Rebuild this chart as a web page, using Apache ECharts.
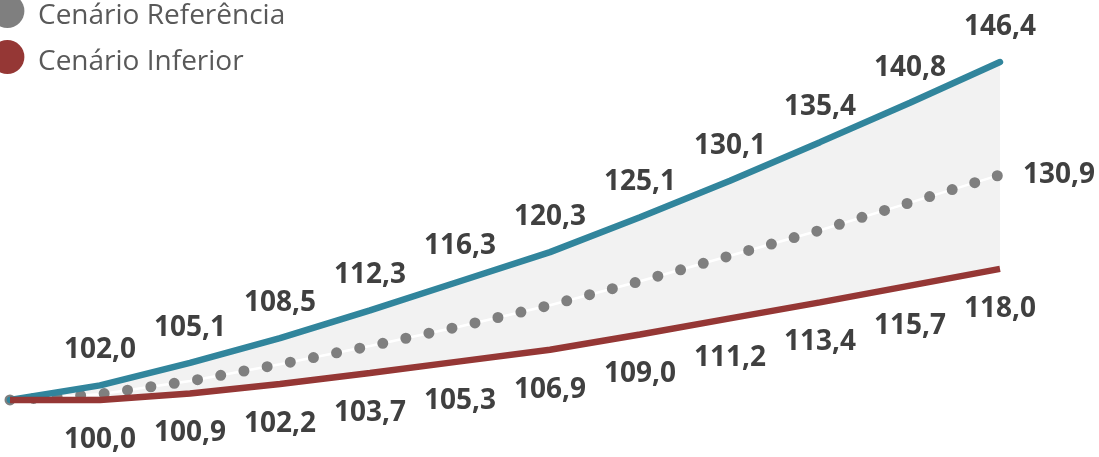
<!DOCTYPE html>
<html style="height: 100%">
    <head>
        <title>Cenários</title>
        <script type="text/javascript" src="https://cdn.jsdelivr.net/npm/echarts@6/dist/echarts.min.js"></script>
    </head>
    <body style="height: 100%; margin: 0; background: #fff">
        <div id="target" style="width: 1099px; height: 457px"></div>
<script>

// one category per period, first one is the common base 100
const periods = ["0", "1", "2", "3", "4", "5", "6", "7", "8", "9", "10", "11"];
const superior = [100.0, 102.0, 105.1, 108.5, 112.3, 116.3, 120.3, 125.1, 130.1, 135.4, 140.8, 146.4];
const referencia = [100.0, 100.8, 102.6, 104.9, 107.4, 110.1, 113.0, 116.3, 119.8, 123.3, 127.1, 130.9];
const inferior = [100.0, 100.0, 100.9, 102.2, 103.7, 105.3, 106.9, 109.0, 111.2, 113.4, 115.7, 118.0];

const labelFont = "Open Sans";
const fmt = v => v.toFixed(1).replace(".", ",");

let chart = echarts.init(document.getElementById('target'));

// band between upper and lower scenario
let bandHeight = superior.map((v, i) => +(v - inferior[i]).toFixed(2));

function valueLabel(position, distance, test)
{
    return {
        show: true,
        position: position,
        distance: distance,
        fontFamily: labelFont,
        fontWeight: "bold",
        fontSize: 28,
        lineHeight: 28,
        color: "#404040",
        formatter: p => test(p.dataIndex) ? fmt(p.value) : "",
    };
}

let option = {
    animation: false,
    grid: {
        left: 10,
        right: 99,
        top: 35.8,
        bottom: 20.6,
    },
    legend: {
        data: ["Cenário Referência", "Cenário Inferior"],
        orient: "vertical",
        left: -9.6,
        top: -8,
        padding: 0,
        icon: "circle",
        // line series draw the legend circle at 0.8 of itemHeight
        itemWidth: 34,
        itemHeight: 34,
        itemGap: 8,
        formatter: name => "{t|" + name + "}",
        textStyle: {
            rich: {
                // top padding drops the text a few px below the circle centre
                t: {
                    fontFamily: labelFont,
                    fontSize: 28,
                    color: "#595959",
                    lineHeight: 24,
                    padding: [10, 0, 0, 8.6],
                },
            },
        },
    },
    xAxis: {
        type: "category",
        data: periods,
        boundaryGap: false,
        show: false,
    },
    yAxis: {
        type: "value",
        min: 95,
        max: 150,
        show: false,
    },
    series: [
        {
            name: "bandBase",
            type: "line",
            stack: "band",
            data: inferior,
            symbol: "none",
            lineStyle: { opacity: 0 },
            silent: true,
        },
        {
            name: "band",
            type: "line",
            stack: "band",
            data: bandHeight,
            symbol: "none",
            lineStyle: { opacity: 0 },
            areaStyle: { color: "#f2f2f2", opacity: 1 },
            silent: true,
        },
        {
            name: "refWhite",
            type: "line",
            data: referencia,
            symbol: "none",
            lineStyle: { color: "#ffffff", width: 2.5 },
        },
        {
            name: "Cenário Referência",
            type: "line",
            data: referencia,
            symbol: "circle",
            symbolSize: 0.01,
            itemStyle: { color: "#7f7f7f" },
            lineStyle: {
                color: "#7f7f7f",
                width: 11,
                type: [0, 23.6],
                cap: "round",
            },
            label: valueLabel("right", 23, i => i === referencia.length - 1),
        },
        {
            name: "Cenário Superior",
            type: "line",
            data: superior,
            symbol: "circle",
            symbolSize: 0.01,
            itemStyle: { color: "#31859c" },
            lineStyle: { color: "#31859c", width: 6.5, cap: "round" },
            label: valueLabel("top", 21, i => i > 0),
        },
        {
            name: "Cenário Inferior",
            type: "line",
            data: inferior,
            symbol: "circle",
            symbolSize: 0.01,
            itemStyle: { color: "#953735" },
            lineStyle: { color: "#953735", width: 6.5 },
            label: valueLabel("bottom", 26, i => i > 0),
        },
    ],
};

chart.setOption(option);

</script>
    </body>
</html>
